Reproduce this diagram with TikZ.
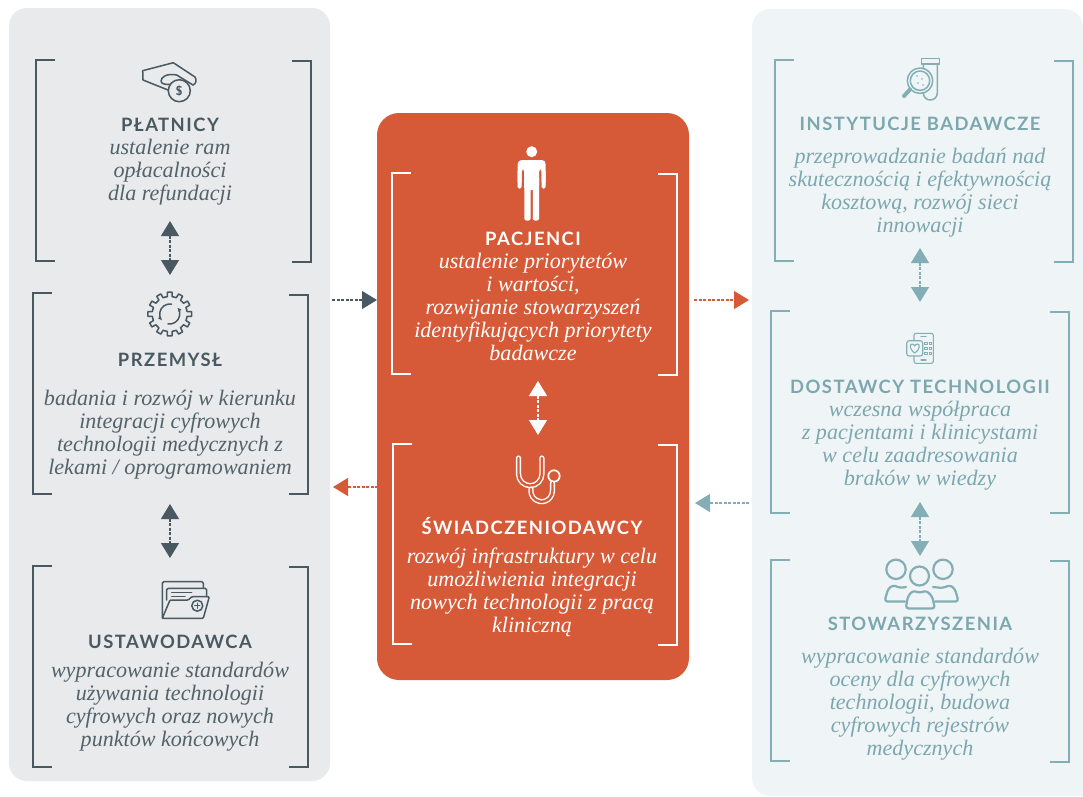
\documentclass[tikz,border=0pt]{standalone}
\usepackage{fontspec}
\setmainfont{Liberation Serif}
\newfontfamily\headfont[LetterSpace=8]{Lato}
\usepackage{tikz}
\usetikzlibrary{arrows.meta, calc}
\definecolor{PanelGrey}{RGB}{232,234,236}
\definecolor{PanelTeal}{RGB}{239,245,246}
\definecolor{MidRed}{RGB}{214,90,56}
\definecolor{DarkSlate}{RGB}{73,88,97}
\definecolor{SoftTeal}{RGB}{132,174,181}
\definecolor{TextSlate}{RGB}{84,98,106}
\definecolor{TextTeal}{RGB}{124,167,175}
\tikzset{
	heading/.style={font=\headfont\fontsize{18.4}{22}\selectfont\bfseries, inner sep=0pt, anchor=center},
	body/.style={font=\fontsize{22.1}{23.2}\selectfont\itshape, align=center, inner sep=0pt, anchor=north},
	icon/.style={line width=1.5pt, line join=round, line cap=round},
}
\providecommand{\Klamry}[9]{%
	\edef\lstroke{#9}%
	\draw[line width=2pt, \lstroke] (#1+19,#2) -- (#1,#2) -- (#1,#3) -- (#1+19,#3);
	\draw[line width=2pt, \lstroke] (#4-19,#5) -- (#4,#5) -- (#4,#6) -- (#4-19,#6);
}
\providecommand{\Strzalka}[4]{%
	\draw[line width=1.2pt, dash pattern=on 3pt off 1.5pt, #1, #2] (#3) -- (#4);
}
\tikzset{
	twohead/.style={{Triangle[length=15pt, width=18pt]}-{Triangle[length=15pt, width=18pt]}},
	onehead/.style={-{Triangle[length=15pt, width=18pt]}},
}

\begin{document}
\begin{tikzpicture}[x=1pt, y=-1pt]
	\useasboundingbox (0,0) rectangle (1083,796);

	\fill[PanelGrey, rounded corners=18pt] (9,8) rectangle (330,781);
	\fill[PanelTeal] (1083,796) [rounded corners=18pt] -- (752,796) -- (752,9) -- (1083,9) [sharp corners] -- cycle;
	\fill[MidRed, rounded corners=22pt] (377,113) rectangle (689,680);

	% brackets
	\Klamry{36}{60}{261}{311}{61}{262}{}{}{DarkSlate}
	\Klamry{33}{293}{494}{308}{295}{494}{}{}{DarkSlate}
	\Klamry{33}{566}{767}{308}{567}{767}{}{}{DarkSlate}
	\Klamry{392}{173}{374}{677}{174}{375}{}{}{white}
	\Klamry{393}{444}{644}{677}{445}{645}{}{}{white}
	\Klamry{775}{60}{261}{1073}{61}{262}{}{}{SoftTeal}
	\Klamry{771}{311}{513}{1069}{312}{513}{}{}{SoftTeal}
	\Klamry{771}{560}{761}{1069}{561}{762}{}{}{SoftTeal}

	% left column
	\node[heading, DarkSlate] (platnicy) at (170,125) {PŁATNICY};
	\node[body, TextSlate] (platnicytxt) at (170,138.5) {ustalenie ram\\opłacalności\\dla refundacji};
	\node[heading, DarkSlate] (przemysl) at (170,360) {PRZEMYSŁ};
	\node[body, TextSlate] (przemysltxt) at (170,389.5) {badania i rozwój w kierunku\\integracji cyfrowych\\technologii medycznych z\\lekami / oprogramowaniem};
	\node[heading, DarkSlate] (ustawodawca) at (170,642) {USTAWODAWCA};
	\node[body, TextSlate] (ustawodawcatxt) at (170,661.5) {wypracowanie standardów\\używania technologii\\cyfrowych oraz nowych\\punktów końcowych};

	% middle column
	\node[heading, white] (pacjenci) at (533,239) {PACJENCI};
	\node[body, white] (pacjencitxt) at (533,252.5) {ustalenie priorytetów\\i wartości,\\rozwijanie stowarzyszeń\\identyfikujących priorytety\\badawcze};
	\node[heading, white] (swiadczeniodawcy) at (532,526.5) {ŚWIADCZENIODAWCY};
	\node[body, white] (swiadczeniodawcytxt) at (532,547.5) {rozwój infrastruktury w celu\\umożliwienia integracji\\nowych technologii z pracą\\kliniczną};

	% right column
	\node[heading, TextTeal] (instytucje) at (920,124) {INSTYTUCJE BADAWCZE};
	\node[body, TextTeal] (instytucjetxt) at (920,147.5) {przeprowadzanie badań nad\\skutecznością i efektywnością\\kosztową, rozwój sieci\\innowacji};
	\node[heading, TextTeal] (dostawcy) at (920,387) {DOSTAWCY TECHNOLOGII};
	\node[body, TextTeal] (dostawcytxt) at (920,400.5) {wczesna współpraca\\z pacjentami i klinicystami\\w celu zaadresowania\\braków w wiedzy};
	\node[heading, TextTeal] (stowarzyszenia) at (920,624) {STOWARZYSZENIA};
	\node[body, TextTeal] (stowarzyszeniatxt) at (920,647.5) {wypracowanie standardów\\oceny dla cyfrowych\\technologii, budowa\\cyfrowych rejestrów\\medycznych};

	% arrows
	\coordinate (a1) at (170,221);
	\coordinate (a2) at (170,275);
	\coordinate (b1) at (170,504);
	\coordinate (b2) at (170,558);
	\coordinate (c1) at (538,381);
	\coordinate (c2) at (538,435);
	\coordinate (d1) at (920,248);
	\coordinate (d2) at (920,302);
	\coordinate (e1) at (920,502);
	\coordinate (e2) at (920,556);
	\coordinate (f1) at (332,300);
	\coordinate (f2) at (377,300);
	\coordinate (g1) at (694,300);
	\coordinate (g2) at (749,300);
	\coordinate (h1) at (378,487);
	\coordinate (h2) at (333,487);
	\coordinate (i1) at (749,503);
	\coordinate (i2) at (695,503);
	\Strzalka{twohead}{DarkSlate}{a1}{a2}
	\Strzalka{twohead}{DarkSlate}{b1}{b2}
	\Strzalka{twohead}{white}{c1}{c2}
	\Strzalka{twohead}{SoftTeal}{d1}{d2}
	\Strzalka{twohead}{SoftTeal}{e1}{e2}
	\Strzalka{onehead}{DarkSlate}{f1}{f2}
	\Strzalka{onehead}{MidRed}{g1}{g2}
	\Strzalka{onehead}{MidRed}{h1}{h2}
	\Strzalka{onehead}{SoftTeal}{i1}{i2}

	% hand with coin
	\begin{scope}[icon, DarkSlate]
		\draw (193,85) -- (176.7,75) .. controls (167,73) and (161,77) .. (161,81) .. controls (161,85) and (168,85) .. (175,83.5);
		\draw (168,90) -- (143,80) -- (142.7,70.7) -- (173.3,62.7) -- (195,77) .. controls (197,80) and (196,84) .. (193,85);
		\draw[fill=PanelGrey] (179.3,90.7) circle (11);
		\node[inner sep=0pt, font=\sffamily\bfseries\fontsize{13}{13}\selectfont] (dollar) at (179.3,90.7) {\$};
	\end{scope}

	% gear
	\begin{scope}[icon, DarkSlate, shift={(169.7,314)}]
		\foreach \a in {0,30,...,330}{
			\draw ({\a-15}:17.5) arc[start angle=\a-15, end angle=\a-8, radius=17.5] -- ({\a-6}:22) arc[start angle=\a-6, end angle=\a+6, radius=22] -- ({\a+8}:17.5) arc[start angle=\a+8, end angle=\a+15, radius=17.5];
		}
		\draw[-{Latex[length=4pt, width=4pt]}] (100:10) arc[start angle=100, end angle=-40, radius=10];
		\draw[-{Latex[length=4pt, width=4pt]}] (280:10) arc[start angle=280, end angle=140, radius=10];
	\end{scope}

	% folder
	\begin{scope}[icon, DarkSlate]
		\draw[rounded corners=1.5pt] (162.3,618.3) -- (162.3,581.7) -- (203.3,581.7) -- (203.3,588);
		\draw[rounded corners=1.5pt] (166.7,600) -- (166.7,588.3) -- (206.7,588.3) -- (206.7,596.7);
		\draw (171.7,592.7) -- (191.7,592.7);
		\draw (171.7,596.7) -- (185,596.7);
		\draw[rounded corners=1pt] (162.3,618.3) -- (170,600) -- (188.3,600) -- (191.7,596.7) -- (209.3,596.7) -- (203.3,618.3) -- cycle;
		\draw (197.3,605.7) circle (5.5);
		\draw (194.8,605.7) -- (199.8,605.7) (197.3,603.2) -- (197.3,608.2);
	\end{scope}

	% person
	\begin{scope}[white]
		\fill (531.7,151.7) circle (5.5);
		\fill[rounded corners=4pt] (517.7,186) -- (517.7,160) -- (545.7,160) -- (545.7,186) -- (541.7,186) -- (541.7,168) -- (539,168) -- (539,190) -- (532.7,190) -- (524.3,190) -- (524.3,168) -- (521.7,168) -- (521.7,186) -- cycle;
		\fill[rounded corners=2pt] (524.3,175) rectangle (530.6,220.5);
		\fill[rounded corners=2pt] (532.8,175) rectangle (539,220.5);
		\fill (524.3,172) rectangle (539,188);
		\fill[rounded corners=1.5pt] (517.7,170) rectangle (521.7,188.5);
		\fill[rounded corners=1.5pt] (541.7,170) rectangle (545.7,188.5);
	\end{scope}

	% stethoscope
	\begin{scope}[white, line cap=round]
		\draw[line width=1.7pt] (554,476) circle (5.7);
		\draw[line width=5.2pt] (518.5,458) -- (518.5,474) arc[start angle=180, end angle=0, radius=11.7] -- (541.9,458);
		\draw[MidRed, line width=2.4pt] (518.5,458) -- (518.5,474) arc[start angle=180, end angle=0, radius=11.7] -- (541.9,458);
		\draw[line width=5.2pt] (531,489) arc[start angle=190, end angle=0, radius=10.8] -- (552.5,483);
		\draw[MidRed, line width=2.4pt] (531,489) arc[start angle=190, end angle=0, radius=10.8] -- (552.5,483);
	\end{scope}

	% magnifier and tube
	\begin{scope}[icon, SoftTeal]
		\draw (923.3,64) -- (923.3,93) arc[start angle=180, end angle=0, radius=7] -- (937.3,64);
		\draw (921.3,58.3) rectangle (939.3,64);
		\draw[fill=PanelTeal] (920,80.7) circle (12.7);
		\draw (920,80.7) circle (9.7);
		\draw[line width=4pt] (910,89.5) -- (904,96);
		\fill (917,76) circle (0.8) (922,79) circle (0.8) (918,83) circle (0.8) (923,85) circle (0.8);
	\end{scope}

	% phone
	\begin{scope}[icon, SoftTeal, line width=1.1pt]
		\draw[rounded corners=2pt] (914,333.3) rectangle (933.3,363.3);
		\draw[fill=PanelTeal, rounded corners=2.5pt] (906.7,340.7) rectangle (922.7,356);
		\draw (914.7,353) .. controls (909,349) and (909.5,344) .. (912,344) .. controls (913.5,344) and (914.5,345) .. (914.7,346) .. controls (915,345) and (916,344) .. (917.5,344) .. controls (920,344) and (920.5,349) .. (914.7,353) -- cycle;
		\draw (921,336.2) -- (926,336.2) (921,360) -- (926,360);
		\foreach \yy in {343.3,348.3,353.3}{
			\draw[line width=0.8pt] (924.6,\yy-1.3) rectangle +(2.4,2.6);
			\draw[line width=0.8pt] (929.3,\yy-1.3) rectangle +(2.4,2.6);
		}
	\end{scope}

	% group
	\begin{scope}[icon, SoftTeal, line width=2.2pt]
		\draw (896,569.3) circle (9.7);
		\draw (943,569.3) circle (9.7);
		\draw[rounded corners=3pt] (905,601.5) -- (884.5,601.5) -- (888,589) -- (893,585) -- (900,588) -- (906,587);
		\draw[rounded corners=3pt] (935,601.5) -- (958.5,601.5) -- (955,589) -- (950,585) -- (943,588) -- (933,587);
		\draw[fill=PanelTeal] (919.5,576) circle (9.5);
		\draw[fill=PanelTeal, rounded corners=3pt] (905.7,608.5) -- (908,596) -- (913,590.5) -- (919.5,593) -- (926,590.5) -- (932,596) -- (935,608.5) -- cycle;
	\end{scope}

\end{tikzpicture}
\end{document}
